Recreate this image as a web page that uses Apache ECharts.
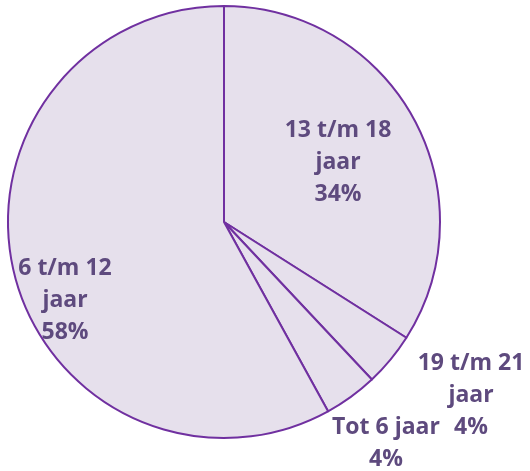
<!DOCTYPE html>
<html>
<head>
<meta charset="utf-8">
<script src="https://cdn.jsdelivr.net/npm/echarts@6/dist/echarts.min.js"></script>
<style>
    html, body { margin: 0; padding: 0; background: #fff; }
    #main { width: 530px; height: 471px; }
</style>
</head>
<body>
<div id="main"></div>
<script>
    // leeftijdsgroepen, met de klok mee vanaf boven
    var categories = ['13 t/m 18\njaar', '19 t/m 21\njaar', 'Tot 6 jaar', '6 t/m 12\njaar'];
    var values = [34, 4, 4, 58];

    // waar elk label staat (midden), in pixels
    var labelPos = [[338, 162], [471, 395], [386, 443], [65, 300]];

    var myChart = echarts.init(document.getElementById('main'));
    var option = {
        animation: false,
        series: [{
            type: 'pie',
            center: [224, 222],
            radius: 216,
            startAngle: 90,
            clockwise: true,
            avoidLabelOverlap: false,
            data: categories.map(function (c, i) { return { name: c, value: values[i] }; }),
            itemStyle: {
                color: '#e6e0ec',
                borderColor: '#7030a0',
                borderWidth: 2
            },
            label: {
                show: true,
                position: 'inside',
                color: '#5e4a7e',
                fontFamily: 'Open Sans',
                fontWeight: 'bold',
                fontSize: 23,
                lineHeight: 32,
                align: 'center',
                formatter: function (p) {
                    return p.name + '\n' + p.value + '%';
                }
            },
            labelLine: { show: false },
            labelLayout: function (params) {
                var pos = labelPos[params.dataIndex];
                return { x: pos[0], y: pos[1], align: 'center', verticalAlign: 'middle', hideOverlap: false };
            },
            emphasis: { disabled: true }
        }]
    };
    myChart.setOption(option);
</script>
</body>
</html>
